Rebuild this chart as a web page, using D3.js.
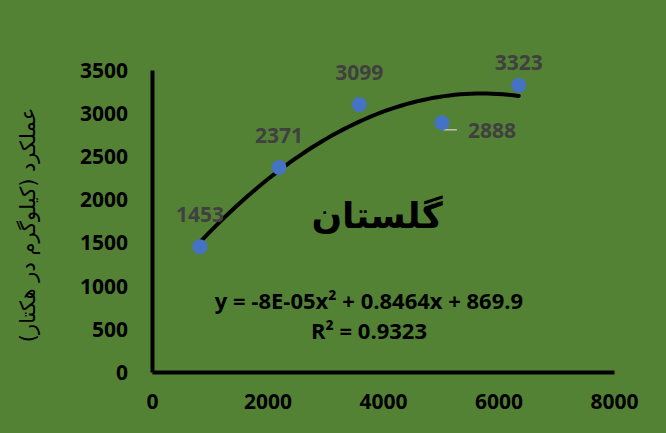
<!DOCTYPE html>
<meta charset="utf-8">
<style>
  body { margin: 0; background: #548235; }
  svg text { font-family: "Open Sans", "Liberation Sans", sans-serif; }
</style>
<script src="https://cdn.jsdelivr.net/npm/d3@7"></script>
<body>
<script>

var area = [830, 2200, 3590, 5020, 6350],
    yieldKg = [1453, 2371, 3099, 2888, 3323],
    xTicks = [0, 2000, 4000, 6000, 8000],
    yTicks = [0, 500, 1000, 1500, 2000, 2500, 3000, 3500];

var title = "گلستان",
    yTitle = "عملکرد (کیلوگرم در هکتار)",
    equation = "y = -8E-05x² + 0.8464x + 869.9",
    rSquared = "R² = 0.9323";

var width = 666,
    height = 433,
    margin = {top: 70, right: 52, bottom: 61, left: 152};

var svg = d3.select("body").append("svg")
    .attr("width", width)
    .attr("height", height);

svg.append("rect")
    .attr("width", width)
    .attr("height", height)
    .attr("fill", "#548235");

var x = d3.scaleLinear()
    .domain([0, 8000])
    .range([margin.left, width - margin.right]);

var y = d3.scaleLinear()
    .domain([0, 3500])
    .range([height - margin.bottom, margin.top]);

// axes: thick black lines, no tick marks
var xAxis = svg.append("g")
    .attr("transform", "translate(0," + y(0) + ")")
    .call(d3.axisBottom(x).tickValues(xTicks).tickFormat(d3.format("d")).tickSize(0).tickPadding(22));

var yAxis = svg.append("g")
    .attr("transform", "translate(" + x(0) + ",0)")
    .call(d3.axisLeft(y).tickValues(yTicks).tickFormat(d3.format("d")).tickSize(0).tickPadding(24));

[xAxis, yAxis].forEach(function(g) {
  g.select(".domain").attr("stroke", "#000").attr("stroke-width", 4);
  g.selectAll("text")
    .attr("fill", "#000")
    .style("font-size", "21px")
    .style("font-weight", "bold");
});
yAxis.selectAll("text").attr("dy", "0.35em");

// quadratic least squares fit for the trendline
function fitQuad(xs, ys) {
  var n = xs.length, s = [0, 0, 0, 0, 0], t = [0, 0, 0];
  for (var i = 0; i < n; i++) {
    for (var k = 0; k < 5; k++) s[k] += Math.pow(xs[i], k);
    for (var k = 0; k < 3; k++) t[k] += ys[i] * Math.pow(xs[i], k);
  }
  var m = [[s[0], s[1], s[2], t[0]], [s[1], s[2], s[3], t[1]], [s[2], s[3], s[4], t[2]]];
  for (var c = 0; c < 3; c++) {
    for (var r = c + 1; r < 3; r++) {
      var f = m[r][c] / m[c][c];
      for (var j = c; j < 4; j++) m[r][j] -= f * m[c][j];
    }
  }
  var b = [0, 0, 0];
  for (var r = 2; r >= 0; r--) {
    var v = m[r][3];
    for (var j = r + 1; j < 3; j++) v -= m[r][j] * b[j];
    b[r] = v / m[r][r];
  }
  return b;
}

var coef = fitQuad(area, yieldKg);
var xExt = d3.extent(area);
var curve = d3.range(0, 61).map(function(i) {
  var xv = xExt[0] + (xExt[1] - xExt[0]) * i / 60;
  return [xv, coef[0] + coef[1] * xv + coef[2] * xv * xv];
});

svg.append("path")
    .datum(curve)
    .attr("fill", "none")
    .attr("stroke", "#000")
    .attr("stroke-width", 4)
    .attr("stroke-linecap", "round")
    .attr("d", d3.line().x(function(d) { return x(d[0]); }).y(function(d) { return y(d[1]); }));

var pts = area.map(function(a, i) { return {x: a, y: yieldKg[i], i: i}; });

// leader line for the label placed to the right
svg.append("path")
    .attr("fill", "none")
    .attr("stroke", "#bfbfbf")
    .attr("stroke-width", 1.5)
    .attr("d", "M" + x(pts[3].x) + "," + y(pts[3].y) +
               "L" + (x(pts[3].x) + 2) + "," + (y(pts[3].y) + 7) +
               "H" + (x(pts[3].x) + 15));

svg.selectAll("circle.pt")
    .data(pts)
    .enter().append("circle")
    .attr("class", "pt")
    .attr("cx", function(d) { return x(d.x); })
    .attr("cy", function(d) { return y(d.y); })
    .attr("r", 7.5)
    .attr("fill", "#4472c4");

svg.selectAll("text.lbl")
    .data(pts)
    .enter().append("text")
    .attr("class", "lbl")
    .attr("x", function(d) { return d.i === 3 ? x(d.x) + 50 : x(d.x); })
    .attr("y", function(d) { return d.i === 3 ? y(d.y) + 8 : y(d.y) - (d.i === 4 ? 23 : 32); })
    .attr("dy", "0.35em")
    .attr("text-anchor", "middle")
    .attr("fill", "#404040")
    .style("font-size", "21px")
    .style("font-weight", "bold")
    .text(function(d) { return d.y; });

svg.append("text")
    .attr("x", 377)
    .attr("y", 215)
    .attr("dy", "0.35em")
    .attr("text-anchor", "middle")
    .attr("fill", "#000")
    .style("font-family", "'DejaVu Sans', sans-serif")
    .style("font-size", "36px")
    .style("font-weight", "bold")
    .text(title);

svg.append("text")
    .attr("transform", "translate(28,225) rotate(-90)")
    .attr("dy", "0.35em")
    .attr("text-anchor", "middle")
    .attr("fill", "#000")
    .style("font-family", "'DejaVu Sans', sans-serif")
    .style("font-size", "21px")
    .text(yTitle);

svg.append("text")
    .attr("x", 369)
    .attr("y", 301)
    .attr("dy", "0.35em")
    .attr("text-anchor", "middle")
    .attr("fill", "#000")
    .style("font-size", "22px")
    .style("font-weight", "bold")
    .text(equation);

svg.append("text")
    .attr("x", 369)
    .attr("y", 331)
    .attr("dy", "0.35em")
    .attr("text-anchor", "middle")
    .attr("fill", "#000")
    .style("font-size", "22px")
    .style("font-weight", "bold")
    .text(rSquared);

</script>
</body>
